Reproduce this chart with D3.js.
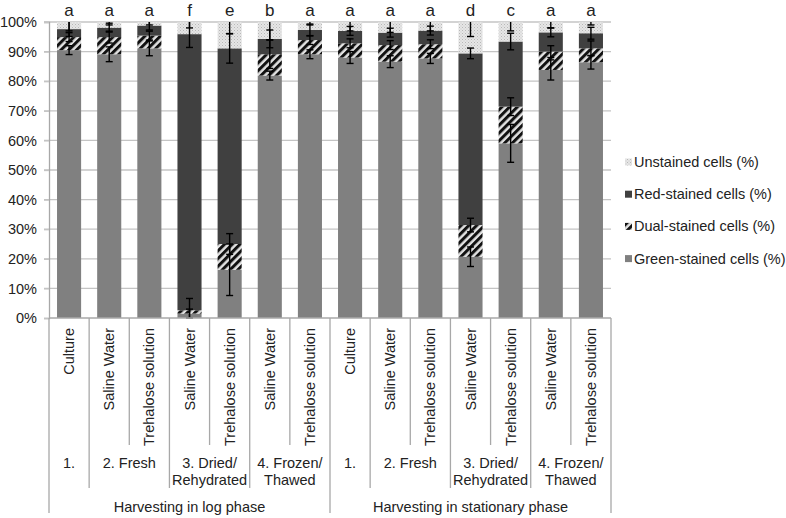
<!DOCTYPE html>
<html><head><meta charset="utf-8">
<script src="https://cdn.jsdelivr.net/npm/d3@7"></script>
<style>body{margin:0;background:#fff}svg{display:block;font-family:"Liberation Sans",Arial,sans-serif}</style>
</head><body><svg id="c" width="786" height="518"></svg>
<script>
const subLabels = ["Culture","Saline Water","Trehalose solution","Saline Water","Trehalose solution","Saline Water","Trehalose solution","Culture","Saline Water","Trehalose solution","Saline Water","Trehalose solution","Saline Water","Trehalose solution"];
const groupLabels = [["1."],["2. Fresh"],["3. Dried/","Rehydrated"],["4. Frozen/","Thawed"],["1."],["2. Fresh"],["3. Dried/","Rehydrated"],["4. Frozen/","Thawed"]];
const groupSpans = [1,2,2,2,1,2,2,2];
const phaseLabels = ["Harvesting in log phase","Harvesting in stationary phase"];
const letters = ["a","a","a","f","e","b","a","a","a","a","d","c","a","a"];
const green = [90.5, 89.1, 91.1, 1.5, 16.3, 81.9, 89.1, 88.0, 86.6, 87.7, 20.7, 59.0, 83.8, 86.4];
const dual = [4.4, 5.8, 4.3, 1.1, 8.7, 7.2, 4.8, 4.8, 5.6, 4.8, 10.7, 12.4, 6.2, 4.7];
const red = [2.7, 3.2, 3.4, 93.3, 66.1, 5.2, 3.4, 4.2, 4.2, 4.6, 58.0, 22.0, 6.5, 5.1];
const unstained = [2.4, 1.9, 1.2, 4.1, 8.9, 5.7, 2.7, 3.0, 3.6, 2.9, 10.6, 6.6, 3.5, 3.8];
const greenErr = [1.5, 2.5, 2.5, 1.5, 8.7, 1.5, 1.5, 2.0, 2.0, 1.7, 3.3, 6.4, 3.4, 2.3];
const dualErr = [1.5, 2.0, 1.5, 4.0, 3.5, 4.8, 1.5, 1.5, 1.5, 1.5, 2.3, 3.0, 2.0, 2.5];
const redErr = [2.5, 1.5, 1.5, 4.5, 5.0, 3.0, 2.0, 1.5, 1.5, 1.5, 1.8, 2.8, 1.5, 2.0];
const unstErr = [3.0, 1.0, 1.0, 2.0, 4.0, 6.0, 1.0, 3.0, 3.5, 3.0, 4.9, 3.0, 2.0, 1.0];
const yTicks = [0,10,20,30,40,50,60,70,80,90,100];
const seriesNames = ["Green-stained cells (%)","Dual-stained cells (%)","Red-stained cells (%)","Unstained cells (%)"];

const svg = d3.select("#c");
const L = 49, R = 611, T = 22, B = 318;
const FS = 14.5;
const idx = d3.range(green.length);
const x = d3.scaleBand().domain(idx).range([L, R]).paddingInner(0.4).paddingOuter(0.2);
const step = x.step();
const y = d3.scaleLinear().domain([0, 100]).range([B, T]);

// patterns
const defs = svg.append("defs");
const hatch = defs.append("pattern").attr("id","hatch").attr("patternUnits","userSpaceOnUse")
  .attr("width",5.5).attr("height",5.5).attr("patternTransform","rotate(45)");
hatch.append("rect").attr("width",5.5).attr("height",5.5).attr("fill","#e2e2e2");
hatch.append("rect").attr("width",3).attr("height",5.5).attr("fill","#111");
const dots = defs.append("pattern").attr("id","dots").attr("patternUnits","userSpaceOnUse").attr("width",3).attr("height",3);
dots.append("rect").attr("width",3).attr("height",3).attr("fill","#e6e6e6");
dots.append("rect").attr("width",1).attr("height",1).attr("fill","#b8b8b8");
dots.append("rect").attr("x",1.5).attr("y",1.5).attr("width",1).attr("height",1).attr("fill","#c8c8c8");

const fills = ["#808080","url(#hatch)","#404040","url(#dots)"];

// gridlines
svg.append("g").selectAll("line").data(yTicks.filter(d=>d>0)).join("line")
  .attr("x1", L-5).attr("x2", R).attr("y1", d=>y(d)).attr("y2", d=>y(d))
  .attr("stroke","#c4c4c4").attr("stroke-width",1.3);

// y axis
const yAxis = d3.axisLeft(y).tickValues(yTicks).tickFormat(d=>d+"%").tickSize(5).tickPadding(7);
const ya = svg.append("g").attr("transform",`translate(${L},0)`).call(yAxis);
ya.select(".domain").attr("stroke","#a8a8a8").attr("stroke-width",1.3);
ya.selectAll(".tick line").attr("stroke","#c4c4c4").attr("stroke-width",1.3);
ya.selectAll("text").attr("font-size",FS).attr("fill","#222").attr("font-family","Liberation Sans, Arial, sans-serif");

// stacked bars
const rows = idx.map(i=>({i, g:green[i], d:dual[i], r:red[i], u:unstained[i]}));
const stack = d3.stack().keys(["g","d","r","u"])(rows);
svg.append("g").selectAll("g").data(stack).join("g").attr("fill",(s,k)=>fills[k])
  .selectAll("rect").data(s=>s).join("rect")
  .attr("x", d=>x(d.data.i)).attr("width", x.bandwidth())
  .attr("y", d=>y(d[1])).attr("height", d=>y(d[0])-y(d[1]));

// error bars
const errs = [greenErr, dualErr, redErr, unstErr];
const eg = svg.append("g").attr("stroke","#000").attr("stroke-width",1.4);
stack.forEach((s,k)=>{
  s.forEach(d=>{
    const i = d.data.i, top = d[1], e = errs[k][i];
    const cx = x(i) + x.bandwidth()/2;
    const hi = Math.min(100, top+e), lo = Math.max(0, top-e);
    eg.append("line").attr("x1",cx).attr("x2",cx).attr("y1",y(hi)).attr("y2",y(lo));
    if (top+e <= 100) eg.append("line").attr("x1",cx-3.5).attr("x2",cx+3.5).attr("y1",y(hi)).attr("y2",y(hi));
    if (top-e >= 0) eg.append("line").attr("x1",cx-3.5).attr("x2",cx+3.5).attr("y1",y(lo)).attr("y2",y(lo));
  });
});

// x axis line
svg.append("line").attr("x1",L).attr("x2",R).attr("y1",B).attr("y2",B).attr("stroke","#a8a8a8").attr("stroke-width",1.3);

// letters
svg.append("g").selectAll("text").data(letters).join("text")
  .attr("x",(d,i)=>x(i)+x.bandwidth()/2).attr("y",16).attr("text-anchor","middle")
  .attr("font-size",17).attr("fill","#222").text(d=>d);

// category separators
const sep = svg.append("g").attr("stroke","#a8a8a8").attr("stroke-width",1.3);
const groupBounds = new Set(); const phaseBounds = new Set([0, idx.length]);
let acc = 0; groupSpans.forEach(s=>{groupBounds.add(acc); acc += s;}); groupBounds.add(acc);
phaseBounds.add(idx.length/2);
for (let k=0;k<=idx.length;k++){
  const xx = L + k*step;
  const y2 = phaseBounds.has(k) ? 513 : groupBounds.has(k) ? 488 : 445;
  sep.append("line").attr("x1",xx).attr("x2",xx).attr("y1",B).attr("y2",y2);
}

// rotated sub labels
svg.append("g").selectAll("text").data(subLabels).join("text")
  .attr("transform",(d,i)=>`translate(${x(i)+x.bandwidth()/2},328) rotate(-90)`)
  .attr("text-anchor","end").attr("dy","0.35em").attr("font-size",FS).attr("fill","#222").text(d=>d);

// group labels
acc = 0;
const gl = svg.append("g");
groupLabels.forEach((lines,gi)=>{
  const cx = L + (acc + groupSpans[gi]/2)*step; acc += groupSpans[gi];
  const t = gl.append("text").attr("x",cx).attr("y",468).attr("text-anchor","middle").attr("font-size",FS).attr("fill","#222");
  lines.forEach((ln,j)=>t.append("tspan").attr("x",cx).attr("dy", j===0?0:17).text(ln));
});

// phase labels
svg.append("g").selectAll("text").data(phaseLabels).join("text")
  .attr("x",(d,i)=>L + (i*7 + 3.5)*step).attr("y",512).attr("text-anchor","middle")
  .attr("font-size",FS).attr("fill","#222").text(d=>d);

// legend
const legOrder = [3,2,1,0];
const lg = svg.append("g");
legOrder.forEach((k,j)=>{
  const cy = 162 + j*32.2;
  lg.append("rect").attr("x",625).attr("y",cy-3.5).attr("width",7).attr("height",7).attr("fill",fills[k]);
  lg.append("text").attr("x",634).attr("y",cy).attr("dy","0.35em").attr("font-size",FS).attr("fill","#222").text(seriesNames[k]);
});
</script></body></html>
